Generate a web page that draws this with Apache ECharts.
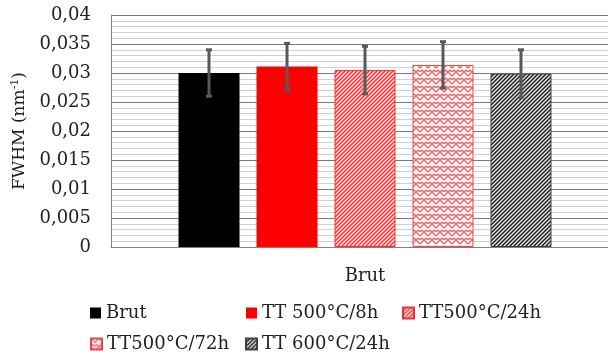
<!DOCTYPE html>
<html>
<head>
<meta charset="utf-8">
<script src="https://cdn.jsdelivr.net/npm/echarts@6/dist/echarts.min.js"></script>
<style>
    html, body { margin: 0; padding: 0; background: #fff; overflow: hidden; }
    /* 图表区域右侧超出画面 */
    #chart { width: 619px; height: 360px; }
</style>
</head>
<body>
<div id="chart"></div>
<script>
// 数据
const categories = ['Brut'];
const seriesNames = ['Brut', 'TT 500°C/8h', 'TT500°C/24h', 'TT500°C/72h', 'TT 600°C/24h'];
const fwhmValues = [0.0300, 0.0311, 0.0305, 0.0314, 0.0299];
const fwhmErrors = [0.0040, 0.0040, 0.0041, 0.0040, 0.0041];
const yTicks = [0, 0.005, 0.01, 0.015, 0.02, 0.025, 0.03, 0.035, 0.04];

const FONT = 'DejaVu Serif';
const BAR_W = 61;
const BAR_GAP = 17;

// 斜线填充
function stripePattern(lineColor, bg) {
    const c = document.createElement('canvas');
    c.width = 4; c.height = 4;
    const ctx = c.getContext('2d');
    ctx.fillStyle = bg;
    ctx.fillRect(0, 0, 4, 4);
    ctx.strokeStyle = lineColor;
    ctx.lineWidth = 1.4;
    ctx.beginPath();
    ctx.moveTo(-1, 5); ctx.lineTo(5, -1);
    ctx.moveTo(-1, 1); ctx.lineTo(1, -1);
    ctx.moveTo(3, 5); ctx.lineTo(5, 3);
    ctx.stroke();
    return { image: c, repeat: 'repeat' };
}

// 编织填充
function weavePattern(lineColor, bg) {
    const c = document.createElement('canvas');
    c.width = 8; c.height = 8;
    const ctx = c.getContext('2d');
    ctx.fillStyle = bg;
    ctx.fillRect(0, 0, 8, 8);
    ctx.strokeStyle = lineColor;
    ctx.lineWidth = 1.2;
    ctx.beginPath();
    ctx.moveTo(0, 0); ctx.lineTo(4, 4);
    ctx.moveTo(4, 4); ctx.lineTo(8, 0);
    ctx.moveTo(0, 8); ctx.lineTo(2, 6);
    ctx.moveTo(6, 6); ctx.lineTo(8, 8);
    ctx.moveTo(2, 6); ctx.lineTo(4, 8);
    ctx.moveTo(6, 6); ctx.lineTo(4, 8);
    ctx.stroke();
    return { image: c, repeat: 'repeat' };
}

const fills = [
    { color: '#000000', border: '#000000' },
    { color: '#ff0000', border: '#ff0000' },
    { color: stripePattern('#e8323a', '#fde8e8'), border: '#e8323a' },
    { color: weavePattern('#e85a5f', '#fff4f4'), border: '#e04a4f' },
    { color: stripePattern('#1a1a1a', '#e6e6e6'), border: '#404040' }
];

const barSeries = seriesNames.map((name, i) => ({
    name: name,
    type: 'bar',
    barWidth: BAR_W,
    barGap: (BAR_GAP / BAR_W * 100) + '%',
    data: [fwhmValues[i]],
    itemStyle: {
        color: fills[i].color,
        borderColor: fills[i].border,
        borderWidth: i >= 2 ? 1 : 0
    },
    z: 2
}));

const errorData = fwhmValues.map((v, i) => [0, v - fwhmErrors[i], v + fwhmErrors[i], i]);

const errorSeries = {
    type: 'custom',
    name: 'err',
    data: errorData,
    z: 10,
    silent: true,
    renderItem: function(params, api) {
        const idx = api.value(3);
        const lo = api.coord([api.value(0), api.value(1)]);
        const hi = api.coord([api.value(0), api.value(2)]);
        const x = lo[0] + (idx - (seriesNames.length - 1) / 2) * (BAR_W + BAR_GAP);
        const style = { stroke: '#595959', lineWidth: 3 };
        return {
            type: 'group',
            children: [
                { type: 'line', shape: { x1: x, y1: hi[1], x2: x, y2: lo[1] }, style: style },
                { type: 'line', shape: { x1: x - 3, y1: hi[1], x2: x + 3, y2: hi[1] }, style: style },
                { type: 'line', shape: { x1: x - 3, y1: lo[1], x2: x + 3, y2: lo[1] }, style: style }
            ]
        };
    }
};

// 图例位置 (每项一个)
const legendPos = [[85, 299], [241, 299], [397, 299], [85, 330], [240, 330]];
const legends = seriesNames.map((name, i) => ({
    left: legendPos[i][0],
    top: legendPos[i][1],
    data: [name],
    itemWidth: 11,
    itemHeight: 11,
    icon: 'rect',
    textStyle: { fontFamily: FONT, fontSize: 18, color: '#222' }
}));

const chart = echarts.init(document.getElementById('chart'));
chart.setOption({
    animation: false,
    grid: { left: 111, right: 0, top: 15, bottom: 113 },
    legend: legends,
    xAxis: {
        type: 'category',
        data: categories,
        axisTick: { show: false },
        axisLine: { lineStyle: { color: '#808080', width: 1 } },
        axisLabel: { fontFamily: FONT, fontSize: 18, color: '#222', margin: 20 }
    },
    yAxis: {
        type: 'value',
        min: yTicks[0],
        max: yTicks[yTicks.length - 1],
        interval: yTicks[1],
        name: '{a|FWHM (nm}{s|-1}{a|)}',
        nameLocation: 'middle',
        nameRotate: 90,
        nameGap: 72,
        nameTextStyle: {
            rich: {
                a: { fontFamily: FONT, fontSize: 17, color: '#222' },
                s: { fontFamily: FONT, fontSize: 11, color: '#222', padding: [0, 0, 9, 0] }
            }
        },
        axisLine: { show: true, lineStyle: { color: '#808080' } },
        axisTick: { show: false },
        axisLabel: {
            fontFamily: FONT, fontSize: 18, color: '#222', margin: 20,
            formatter: v => String(+v.toFixed(3)).replace('.', ',')
        },
        splitLine: { lineStyle: { color: '#7a7a7a', width: 1 } },
        minorTick: { show: false, splitNumber: 5 },
        minorSplitLine: { show: true, lineStyle: { color: '#d0d0d0', width: 1 } }
    },
    series: barSeries.concat([errorSeries])
});
</script>
</body>
</html>
